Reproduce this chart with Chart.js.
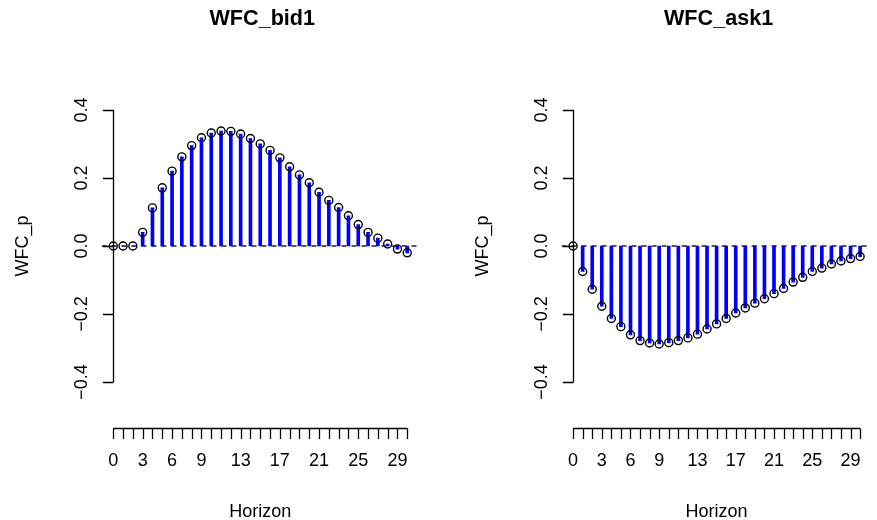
<!DOCTYPE html>
<html>
<head>
<meta charset="utf-8">
<script src="https://cdn.jsdelivr.net/npm/chart.js@4"></script>
<style>
  body { margin: 0; background: #fff; }
  canvas { position: absolute; top: 0; }
</style>
</head>
<body>
<canvas id="bidChart" width="438" height="520" style="left:0"></canvas>
<canvas id="askChart" width="439" height="520" style="left:438px"></canvas>
<script>
// 資料：橫軸（期數）與兩組反應值
const horizon = [0, 1, 2, 3, 4, 5, 6, 7, 8, 9, 10, 11, 12, 13, 14, 15, 16, 17, 18, 19, 20, 21, 22, 23, 24, 25, 26, 27, 28, 29, 30];
const bid1 = [0, 0, 0, 0.040, 0.112, 0.171, 0.220, 0.262, 0.295, 0.318, 0.332, 0.338, 0.337, 0.329, 0.316, 0.300, 0.281, 0.259, 0.233, 0.209, 0.186, 0.158, 0.134, 0.113, 0.089, 0.063, 0.040, 0.023, 0.006, -0.009, -0.020];
const ask1 = [0, -0.075, -0.127, -0.177, -0.213, -0.237, -0.261, -0.278, -0.285, -0.288, -0.284, -0.278, -0.270, -0.259, -0.244, -0.229, -0.213, -0.197, -0.182, -0.168, -0.155, -0.140, -0.125, -0.106, -0.092, -0.075, -0.065, -0.053, -0.044, -0.037, -0.031];

// 刻度
const yTicks = [-0.4, -0.2, 0, 0.2, 0.4];
const yTickLabels = ['\u22120.4', '\u22120.2', '0.0', '0.2', '0.4'];
const xLabelTicks = [0, 3, 6, 9, 13, 17, 21, 25, 29];

const FONT = '"Liberation Sans", Arial, sans-serif';

// 仿 R 的座標軸、標題
const rAxesPlugin = {
    id: 'rAxes',
    afterDraw(chart) {
        const ctx = chart.ctx;
        const area = chart.chartArea;
        const xs = chart.scales.x;
        const ys = chart.scales.y;
        const opts = chart.options.plugins.rAxes;

        ctx.save();
        ctx.strokeStyle = '#000';
        ctx.fillStyle = '#000';
        ctx.lineWidth = 1.3;

        // y 軸
        const ax = Math.round(xs.getPixelForValue(0)) + 0.5;
        ctx.beginPath();
        ctx.moveTo(ax, ys.getPixelForValue(0.4));
        ctx.lineTo(ax, ys.getPixelForValue(-0.4));
        yTicks.forEach(v => {
            const py = Math.round(ys.getPixelForValue(v)) + 0.5;
            ctx.moveTo(ax, py);
            ctx.lineTo(ax - 10.5, py);
        });
        ctx.stroke();

        ctx.font = '18px ' + FONT;
        ctx.textAlign = 'center';
        ctx.textBaseline = 'alphabetic';
        yTicks.forEach((v, i) => {
            ctx.save();
            ctx.translate(ax - 26.5, ys.getPixelForValue(v));
            ctx.rotate(-Math.PI / 2);
            ctx.fillText(yTickLabels[i], 0, 0);
            ctx.restore();
        });

        // x 軸（畫在繪圖區下方）
        const axisY = 428.5;
        ctx.beginPath();
        ctx.moveTo(xs.getPixelForValue(horizon[0]), axisY);
        ctx.lineTo(xs.getPixelForValue(horizon[horizon.length - 1]), axisY);
        horizon.forEach(h => {
            const px = Math.round(xs.getPixelForValue(h)) + 0.5;
            ctx.moveTo(px, axisY);
            ctx.lineTo(px, axisY + 10.5);
        });
        ctx.stroke();
        xLabelTicks.forEach(h => {
            ctx.fillText(String(h), xs.getPixelForValue(h), 466);
        });

        // 軸標題
        const cx = (area.left + area.right) / 2;
        ctx.fillText('Horizon', cx, 516.5);
        ctx.save();
        ctx.translate(area.left - 73.5, ys.getPixelForValue(0));
        ctx.rotate(-Math.PI / 2);
        ctx.fillText('WFC_p', 0, 0);
        ctx.restore();

        // 主標題
        ctx.font = 'bold 21.6px ' + FONT;
        ctx.fillText(opts.title, cx + 2, 25);
        ctx.restore();
    }
};

function makeChart(canvasId, title, values, padLeft, padRight) {
    const ctx = document.getElementById(canvasId);
    return new Chart(ctx, {
        type: 'bar',
        data: {
            datasets: [
                {
                    type: 'scatter',
                    data: horizon.map((h, i) => ({ x: h, y: values[i] })),
                    pointRadius: 4,
                    pointBorderWidth: 1.4,
                    pointBorderColor: '#000',
                    pointBackgroundColor: 'rgba(0,0,0,0)',
                    pointStyle: 'circle',
                    clip: false,
                    order: 0
                },
                {
                    type: 'bar',
                    data: horizon.map((h, i) => ({ x: h, y: values[i] })),
                    backgroundColor: '#0000FF',
                    barThickness: 3,
                    order: 1
                },
                {
                    type: 'line',
                    data: [{ x: -1.2, y: 0 }, { x: 31.2, y: 0 }],
                    borderColor: '#000',
                    borderWidth: 1.3,
                    borderDash: [5, 5],
                    pointRadius: 0,
                    order: 2
                }
            ]
        },
        options: {
            responsive: false,
            animation: false,
            layout: {
                padding: { left: padLeft, right: padRight, top: 99, bottom: 127 }
            },
            scales: {
                x: { type: 'linear', min: -1.2, max: 31.2, offset: false, display: false },
                y: { type: 'linear', min: -0.432, max: 0.432, display: false }
            },
            plugins: {
                legend: { display: false },
                tooltip: { enabled: false },
                rAxes: { title: title }
            }
        },
        plugins: [rAxesPlugin]
    });
}

window.addEventListener('load', function() {
    makeChart('bidChart', 'WFC_bid1', bid1, 101.5, 19);
    makeChart('askChart', 'WFC_ask1', ask1, 123.6, 0.3);
});
</script>
</body>
</html>
